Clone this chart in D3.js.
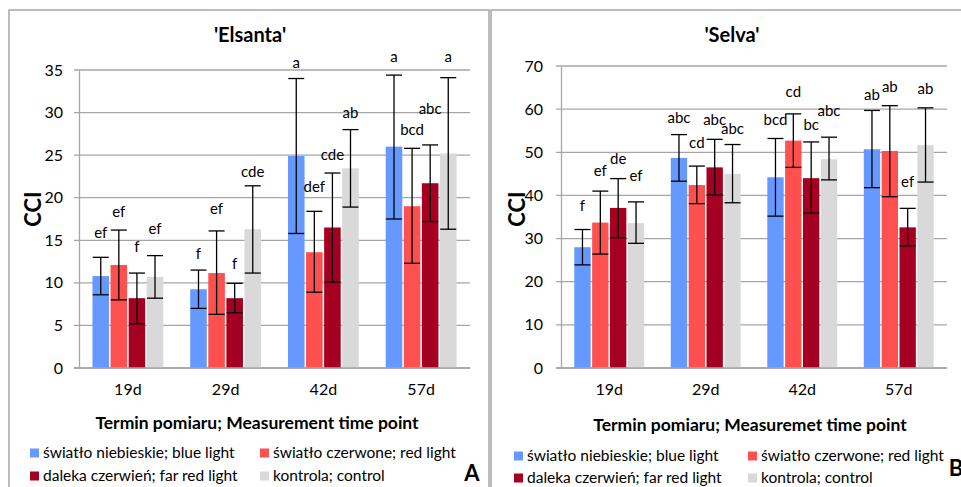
<!DOCTYPE html>
<html>
<head>
<meta charset="utf-8">
<script src="https://cdn.jsdelivr.net/npm/d3@7"></script>
<style>
  body { margin: 0; background: #fff; }
  svg { display: block; font-family: Lato, "Open Sans", sans-serif; }
</style>
</head>
<body>
<div id="chart"></div>
<script>
// categories and series
const categories = ["19d", "29d", "42d", "57d"];
const seriesNames = [
  "światło niebieskie; blue light",
  "światło czerwone; red light",
  "daleka czerwień; far red light",
  "kontrola; control"
];
const seriesColors = ["#6699ff", "#ff5050", "#a50021", "#d9d9d9"];

// 'Elsanta' (rows = series, columns = categories)
const elsantaMean = [
  [10.8, 9.25, 24.9, 26.0],
  [12.1, 11.15, 13.6, 19.0],
  [8.2, 8.2, 16.5, 21.7],
  [10.7, 16.3, 23.45, 25.2]
];
const elsantaUpper = [
  [13.0, 11.5, 34.0, 34.4],
  [16.2, 16.1, 18.4, 25.8],
  [11.15, 9.95, 22.9, 26.2],
  [13.2, 21.4, 28.0, 34.1]
];
const elsantaLower = [
  [8.6, 7.0, 15.8, 17.5],
  [8.0, 6.3, 8.9, 12.3],
  [5.2, 6.5, 10.1, 17.2],
  [8.2, 11.15, 18.9, 16.3]
];
const elsantaLetters = [
  ["ef", "f", "a", "a"],
  ["ef", "ef", "def", "bcd"],
  ["f", "f", "cde", "abc"],
  ["ef", "cde", "ab", "a"]
];
const elsantaLetterAt = [
  [15.9, 13.4, 35.9, 36.6],
  [18.4, 18.7, 21.3, 28.0],
  [14.2, 12.3, 25.0, 30.5],
  [16.3, 23.1, 30.0, 36.5]
];
const elsantaTicks = [0, 5, 10, 15, 20, 25, 30, 35];

// 'Selva'
const selvaMean = [
  [28.0, 48.7, 44.2, 50.7],
  [33.7, 42.4, 52.7, 50.3],
  [37.1, 46.5, 44.0, 32.6],
  [33.6, 45.0, 48.4, 51.7]
];
const selvaUpper = [
  [32.1, 54.1, 53.2, 59.7],
  [41.0, 46.8, 58.9, 60.8],
  [43.9, 53.0, 52.4, 37.0],
  [38.5, 51.8, 53.5, 60.3]
];
const selvaLower = [
  [23.9, 43.3, 35.2, 41.8],
  [26.4, 38.1, 46.5, 39.7],
  [30.2, 40.1, 35.9, 28.3],
  [28.9, 38.3, 43.6, 43.1]
];
const selvaLetters = [
  ["f", "abc", "bcd", "ab"],
  ["ef", "cd", "cd", "ab"],
  ["de", "abc", "bc", "ef"],
  ["ef", "abc", "abc", "ab"]
];
const selvaLetterAt = [
  [37.6, 57.9, 57.5, 63.3],
  [45.7, 52.1, 64.0, 65.2],
  [48.6, 57.5, 56.3, 43.2],
  [44.6, 55.4, 59.6, 64.8]
];
const selvaTicks = [0, 10, 20, 30, 40, 50, 60, 70];

const W = 961, H = 487;
const svg = d3.select("#chart").append("svg").attr("width", W).attr("height", H);

// panel frames
svg.append("rect").attr("x", 9).attr("y", 10).attr("width", 480).attr("height", 500)
  .attr("fill", "none").attr("stroke", "#a6a6a6").attr("stroke-width", 1.5);
svg.append("rect").attr("x", 491).attr("y", 10).attr("width", 500).attr("height", 500)
  .attr("fill", "none").attr("stroke", "#a6a6a6").attr("stroke-width", 1.5);

function drawPanel(cfg) {
  const g = svg.append("g");

  const x0 = d3.scaleBand().domain(categories)
    .range([cfg.left, cfg.right]).paddingInner(0.26).paddingOuter(0.13);
  const x1 = d3.scaleBand().domain(d3.range(seriesNames.length))
    .range([0, x0.bandwidth()]);
  const y = d3.scaleLinear().domain([0, d3.max(cfg.ticks)]).range([cfg.bottom, cfg.top]);

  // gridlines
  g.append("g").selectAll("line").data(cfg.ticks).join("line")
    .attr("x1", cfg.left - 5).attr("x2", cfg.right)
    .attr("y1", d => y(d)).attr("y2", d => y(d))
    .attr("stroke", "#a6a6a6").attr("stroke-width", 1.3);

  // y axis
  const yAxis = g.append("g")
    .attr("transform", "translate(" + cfg.left + ",0)")
    .call(d3.axisLeft(y).tickValues(cfg.ticks).tickSize(0).tickPadding(cfg.tickPad));
  yAxis.select(".domain").attr("stroke", "#a6a6a6").attr("stroke-width", 1.3);
  yAxis.selectAll("text").attr("font-size", 16).attr("fill", "#000")
    .style("font-family", "Lato, sans-serif");

  // x labels
  g.append("g").selectAll("text").data(categories).join("text")
    .attr("x", d => x0(d) + x0.bandwidth() / 2)
    .attr("y", cfg.bottom + 21).attr("dy", "0.35em")
    .attr("text-anchor", "middle").attr("font-size", 16)
    .text(d => d);

  const cells = [];
  seriesNames.forEach((s, si) => {
    categories.forEach((c, ci) => {
      cells.push({
        si: si, cat: c,
        v: cfg.mean[si][ci], hi: cfg.upper[si][ci], lo: cfg.lower[si][ci],
        letter: cfg.letters[si][ci], at: cfg.letterAt[si][ci]
      });
    });
  });
  const cx = d => x0(d.cat) + x1(d.si) + x1.bandwidth() / 2;

  // bars
  g.append("g").selectAll("rect").data(cells).join("rect")
    .attr("x", d => x0(d.cat) + x1(d.si) + 0.75)
    .attr("width", x1.bandwidth() - 1.5)
    .attr("y", d => y(d.v))
    .attr("height", d => y(0) - y(d.v))
    .attr("fill", d => seriesColors[d.si]);

  // baseline
  g.append("line").attr("x1", cfg.left - 5).attr("x2", cfg.right)
    .attr("y1", y(0)).attr("y2", y(0))
    .attr("stroke", "#a6a6a6").attr("stroke-width", 1.3);

  // error bars
  const eb = g.append("g").attr("stroke", "#000").attr("stroke-width", 1.3);
  eb.selectAll(".stem").data(cells).join("line").attr("class", "stem")
    .attr("x1", cx).attr("x2", cx)
    .attr("y1", d => y(d.hi)).attr("y2", d => y(d.lo));
  eb.selectAll(".capHi").data(cells).join("line").attr("class", "capHi")
    .attr("x1", d => cx(d) - 8).attr("x2", d => cx(d) + 8)
    .attr("y1", d => y(d.hi)).attr("y2", d => y(d.hi));
  eb.selectAll(".capLo").data(cells).join("line").attr("class", "capLo")
    .attr("x1", d => cx(d) - 8).attr("x2", d => cx(d) + 8)
    .attr("y1", d => y(d.lo)).attr("y2", d => y(d.lo));

  // significance letters
  g.append("g").selectAll("text").data(cells).join("text")
    .attr("x", cx).attr("y", d => y(d.at)).attr("dy", "0.35em")
    .attr("text-anchor", "middle").attr("font-size", 15)
    .text(d => d.letter);

  // titles
  g.append("text").attr("x", cfg.titleX).attr("y", 35).attr("dy", "0.35em")
    .attr("text-anchor", "middle").attr("font-size", 20).attr("font-weight", "bold")
    .text(cfg.title);
  g.append("text")
    .attr("transform", "translate(" + (cfg.yTitleX) + "," + 209 + ") rotate(-90)")
    .attr("text-anchor", "middle").attr("dy", "0.35em")
    .attr("font-size", 22).attr("font-weight", "bold")
    .text("CCI");
  g.append("text").attr("x", cfg.xTitleX).attr("y", cfg.xTitleY).attr("dy", "0.35em")
    .attr("text-anchor", "middle").attr("font-size", 17.5).attr("font-weight", "bold")
    .text(cfg.xTitle);

  // legend
  const lg = g.append("g");
  seriesNames.forEach((s, i) => {
    const lx = cfg.legendX[i % 2];
    const ly = cfg.legendY[Math.floor(i / 2)];
    lg.append("rect").attr("x", lx).attr("y", ly - 4.5).attr("width", 9).attr("height", 9)
      .attr("fill", seriesColors[i]);
    lg.append("text").attr("x", lx + 13).attr("y", ly).attr("dy", "0.35em")
      .attr("font-size", 15.5).text(s);
  });

  g.append("text").attr("x", cfg.tagX).attr("y", cfg.tagY).attr("dy", "0.35em")
    .attr("text-anchor", "middle").attr("font-size", 22).attr("font-weight", "bold")
    .text(cfg.tag);
}

drawPanel({
  left: 79, right: 470, top: 70, bottom: 368, tickPad: 16,
  ticks: elsantaTicks, mean: elsantaMean, upper: elsantaUpper, lower: elsantaLower,
  letters: elsantaLetters, letterAt: elsantaLetterAt,
  title: "'Elsanta'", titleX: 250, yTitleX: 33,
  xTitle: "Termin pomiaru; Measurement time point", xTitleX: 257, xTitleY: 423,
  legendX: [30, 260], legendY: [453, 476], tag: "A", tagX: 472, tagY: 473
});

drawPanel({
  left: 561, right: 947, top: 66, bottom: 368, tickPad: 18,
  ticks: selvaTicks, mean: selvaMean, upper: selvaUpper, lower: selvaLower,
  letters: selvaLetters, letterAt: selvaLetterAt,
  title: "'Selva'", titleX: 732, yTitleX: 517,
  xTitle: "Termin pomiaru; Measuremet time point", xTitleX: 750, xTitleY: 425,
  legendX: [514, 748], legendY: [456, 478], tag: "B", tagX: 956, tagY: 468
});
</script>
</body>
</html>
